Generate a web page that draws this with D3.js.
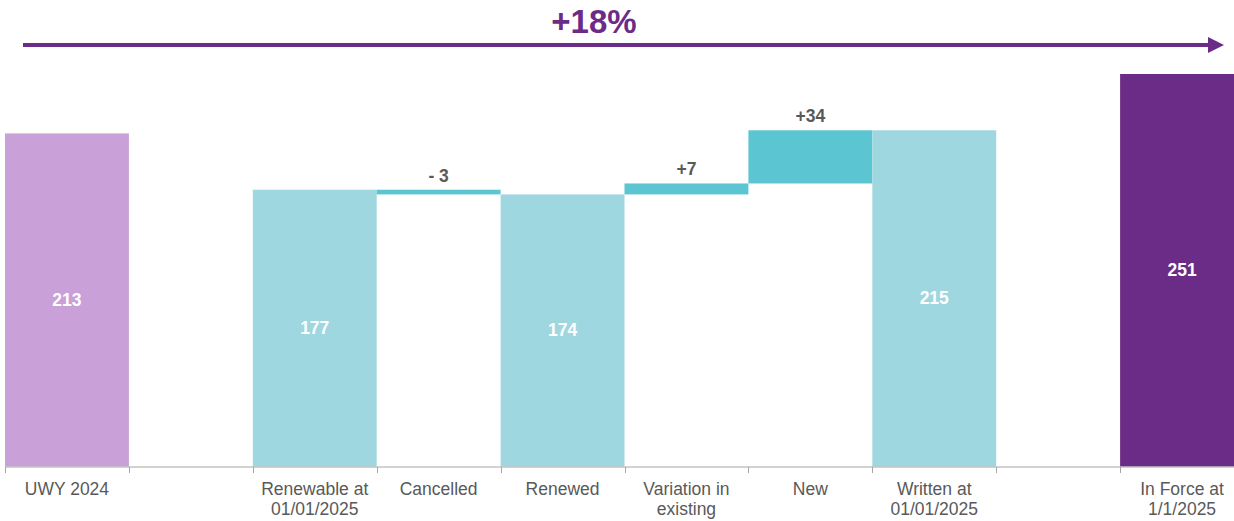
<!DOCTYPE html>
<html>
<head>
<meta charset="utf-8">
<script src="https://cdn.jsdelivr.net/npm/d3@7"></script>
<style>
  html, body { margin: 0; padding: 0; background: #fff; overflow: hidden; }
  svg { display: block; font-family: Arial, "Liberation Sans", sans-serif; }
</style>
</head>
<body>
<div id="chart"></div>
<script>
// waterfall data, slot by slot (empty strings are spacer slots)
const categories = ["UWY 2024", "", "Renewable at|01/01/2025", "Cancelled", "Renewed",
  "Variation in|existing", "New", "Written at|01/01/2025", "", "In Force at|1/1/2025"];
const kinds = ["prior", "gap", "total", "delta", "total", "delta", "delta", "total", "gap", "final"];
const barStart = [0, null, 0, 174, 0, 174, 181, 0, null, 0];
const barEnd = [213, null, 177, 177, 174, 181, 215, 215, null, 251];
const valueLabels = ["213", "", "177", "- 3", "174", "+7", "+34", "215", "", "251"];
const growthLabel = "+18%";

const width = 1234, height = 521;
const margin = { L: 5, R: -10, T: 74, B: 466.5 };
const colors = { prior: "#C9A0D8", total: "#9FD7E0", delta: "#5BC5D1", final: "#6B2C87" };

const svg = d3.select("#chart").append("svg")
  .attr("width", width).attr("height", height);

const idx = categories.map((d, i) => i);
const x = d3.scaleBand().domain(idx).range([margin.L, width - margin.R]).padding(0);
const y = d3.scaleLinear().domain([0, 251]).range([margin.B, margin.T]);

// bars
svg.append("g").selectAll("rect")
  .data(idx.filter(i => kinds[i] !== "gap"))
  .enter().append("rect")
  .attr("x", i => x(i))
  .attr("width", x.bandwidth())
  .attr("y", i => y(Math.max(barStart[i], barEnd[i])))
  .attr("height", i => Math.abs(y(barStart[i]) - y(barEnd[i])))
  .attr("fill", i => colors[kinds[i]]);

// labels inside totals
svg.append("g").selectAll("text")
  .data(idx.filter(i => kinds[i] !== "gap" && kinds[i] !== "delta"))
  .enter().append("text")
  .attr("x", i => x(i) + x.bandwidth() / 2)
  .attr("y", i => (y(barStart[i]) + y(barEnd[i])) / 2 + 6)
  .attr("text-anchor", "middle")
  .attr("fill", "#fff")
  .attr("font-weight", "bold")
  .attr("font-size", 17.5)
  .text(i => valueLabels[i]);

// labels above deltas
svg.append("g").selectAll("text")
  .data(idx.filter(i => kinds[i] === "delta"))
  .enter().append("text")
  .attr("x", i => x(i) + x.bandwidth() / 2)
  .attr("y", i => y(Math.max(barStart[i], barEnd[i])) - 8)
  .attr("text-anchor", "middle")
  .attr("fill", "#595959")
  .attr("font-weight", "bold")
  .attr("font-size", 17.5)
  .text(i => valueLabels[i]);

// category axis
const axis = svg.append("g");
axis.append("line")
  .attr("x1", margin.L).attr("x2", width)
  .attr("y1", 467).attr("y2", 467)
  .attr("stroke", "#A6A6A6").attr("stroke-width", 1.2);
axis.selectAll(".tick")
  .data(idx)
  .enter().append("line")
  .attr("x1", i => Math.round(x(i)) + 0.5).attr("x2", i => Math.round(x(i)) + 0.5)
  .attr("y1", 467).attr("y2", 473)
  .attr("stroke", "#A6A6A6");
const catText = axis.selectAll(".cat")
  .data(idx.filter(i => categories[i] !== ""))
  .enter().append("text")
  .attr("text-anchor", "middle")
  .attr("fill", "#595959")
  .attr("font-size", 17.5);
catText.each(function (i) {
  const lines = categories[i].split("|");
  d3.select(this).selectAll("tspan")
    .data(lines)
    .enter().append("tspan")
    .attr("x", x(i) + x.bandwidth() / 2)
    .attr("y", (d, k) => 495 + k * 20)
    .text(d => d);
});

// growth arrow
svg.append("line")
  .attr("x1", 23).attr("x2", 1210)
  .attr("y1", 45).attr("y2", 45)
  .attr("stroke", "#6B2C87").attr("stroke-width", 4);
svg.append("path")
  .attr("d", "M1208,37 L1224,45 L1208,53 Z")
  .attr("fill", "#6B2C87");
svg.append("text")
  .attr("x", 594).attr("y", 33)
  .attr("text-anchor", "middle")
  .attr("fill", "#6B2C87")
  .attr("font-weight", "bold")
  .attr("font-size", 33)
  .text(growthLabel);
</script>
</body>
</html>
